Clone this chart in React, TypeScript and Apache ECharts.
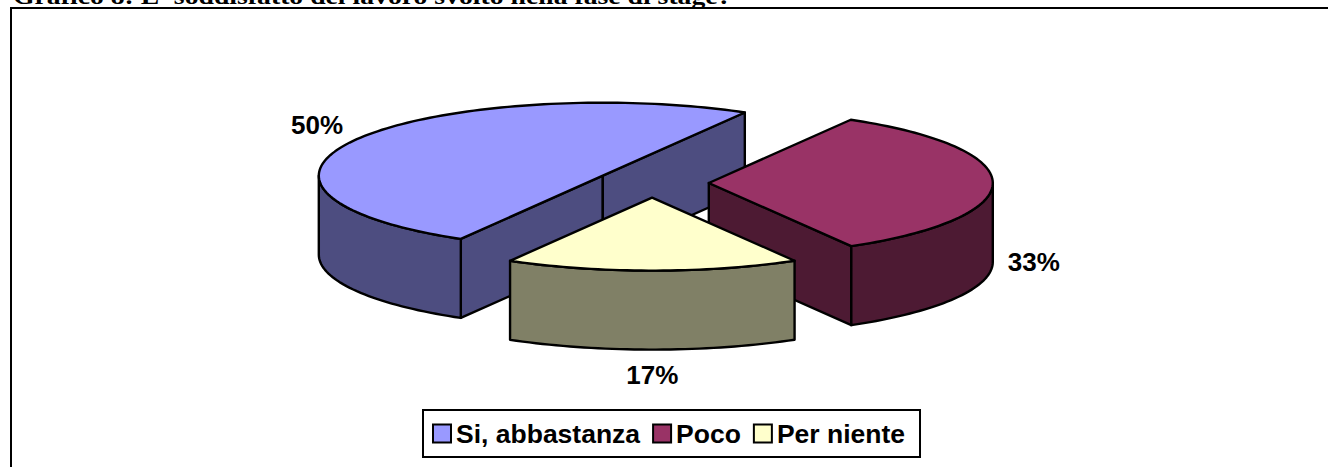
import React, { useEffect, useRef } from "react";
import * as echarts from "echarts";

const TITLE = "Grafico 8: E' soddisfatto del lavoro svolto nella fase di stage?";
const categories = ["Si, abbastanza", "Poco", "Per niente"];
const shares = [50, 33.3, 16.7];
const topColors = ["#9999FF", "#993366", "#FFFFCC"];
const sideColors = ["#4D4D80", "#4D1A33", "#808066"];
const labelGaps = [[46, 29], [41, 0], [0, 25]];

const W = 1328;
const H = 467;
const CX = 652;
const CY = 183;
const RX = 284;
const RY = 73;
const DEPTH = 79;
const EXPLODE = 0.2;
const START = 120;
const STROKE = 2.4;
const SANS = '"Liberation Sans", Arial, sans-serif';
const rad = (d: number) => (d * Math.PI) / 180;
const total = shares.reduce((a, b) => a + b, 0);

function arcPoints(ax: number, ay: number, a: number, b: number, dy = 0) {
  const pts: number[][] = [];
  const n = Math.max(2, Math.ceil(Math.abs(b - a) / 1.5));
  for (let i = 0; i <= n; i++) {
    const t = rad(a + ((b - a) * i) / n);
    pts.push([ax + RX * Math.cos(t), ay + RY * Math.sin(t) + dy]);
  }
  return pts;
}

function makeRender(index: number) {
  return (_params: any, api: any) => {
    const value = api.value(0) as number;
    const before = shares.slice(0, index).reduce((a, b) => a + b, 0);
    const a = START + (before / total) * 360;
    const b = a + (value / total) * 360;
    const mid = rad((a + b) / 2);
    const ax = CX + EXPLODE * RX * Math.cos(mid);
    const ay = CY + EXPLODE * RY * Math.sin(mid);
    const side = { fill: sideColors[index], stroke: "#000", lineWidth: STROKE, lineJoin: "round" };
    const children: any[] = [];
    const mx = RX * Math.cos(mid);
    const my = RY * Math.sin(mid);
    [a, b].forEach((t) => {
      const dx = RX * Math.cos(rad(t));
      const dy = RY * Math.sin(rad(t));
      let ny = dx;
      const nx = -dy;
      if (nx * mx + ny * my > 0) ny = -ny;
      if (ny > 0) {
        children.push({
          type: "polygon",
          shape: { points: [[ax, ay], [ax + dx, ay + dy], [ax + dx, ay + dy + DEPTH], [ax, ay + DEPTH]] },
          style: side,
        });
      }
    });
    for (let k = 0; k < 2; k++) {
      const from = Math.max(a, 360 * k);
      const to = Math.min(b, 180 + 360 * k);
      if (to > from) {
        const top = arcPoints(ax, ay, from, to);
        const bottom = arcPoints(ax, ay, to, from, DEPTH);
        children.push({ type: "polygon", shape: { points: top.concat(bottom) }, style: side });
      }
    }
    children.push({
      type: "polygon",
      shape: { points: [[ax, ay], ...arcPoints(ax, ay, a, b)] },
      style: { fill: topColors[index], stroke: "#000", lineWidth: STROKE, lineJoin: "round" },
    });
    const [gx, gy] = labelGaps[index];
    children.push({
      type: "text",
      style: {
        text: `${Math.round((value / total) * 100)}%`,
        x: ax + (RX + gx) * Math.cos(mid),
        y: ay + (RY + gy) * Math.sin(mid) + (Math.sin(mid) >= -0.01 ? DEPTH : 0),
        fill: "#000",
        font: `bold 26px ${SANS}`,
        align: "center",
        verticalAlign: "middle",
      },
    });
    return { type: "group", children };
  };
}

export default function App() {
  const ref = useRef<HTMLDivElement>(null);
  useEffect(() => {
    document.body.style.margin = "0";
    const chart = echarts.init(ref.current!, null, { renderer: "svg" });
    chart.setOption({
      animation: false,
      backgroundColor: "#fff",
      legend: {
        left: 423,
        top: 410,
        padding: [10, 15, 10, 9],
        orient: "horizontal",
        icon: "rect",
        itemWidth: 18,
        itemHeight: 18,
        itemGap: 12,
        borderColor: "#000",
        borderWidth: 2,
        selectedMode: false,
        itemStyle: { borderColor: "#000", borderWidth: 2 },
        textStyle: { color: "#000", fontFamily: SANS, fontWeight: "bold", fontSize: 26.5 },
        data: categories,
      },
      graphic: [
        {
          type: "text",
          silent: true,
          x: 13,
          y: 8,
          scaleX: 1.18,
          style: {
            text: TITLE,
            x: 0,
            y: 0,
            fill: "#000",
            font: 'bold 23.5px "Liberation Serif", "Times New Roman", serif',
            align: "left",
            verticalAlign: "bottom",
          },
        },
        {
          type: "polyline",
          silent: true,
          shape: { points: [[11, H], [11, 8], [W, 8]] },
          style: { stroke: "#000", fill: "none", lineWidth: 2 },
        },
      ],
      series: categories.map((name, i) => ({
        type: "custom",
        name,
        coordinateSystem: "none",
        itemStyle: { color: topColors[i] },
        silent: true,
        data: [[shares[i]]],
        renderItem: makeRender(i),
      })),
    });
    return () => chart.dispose();
  }, []);
  return <div ref={ref} style={{ position: "absolute", left: 0, top: 0, width: W, height: H }} />;
}
